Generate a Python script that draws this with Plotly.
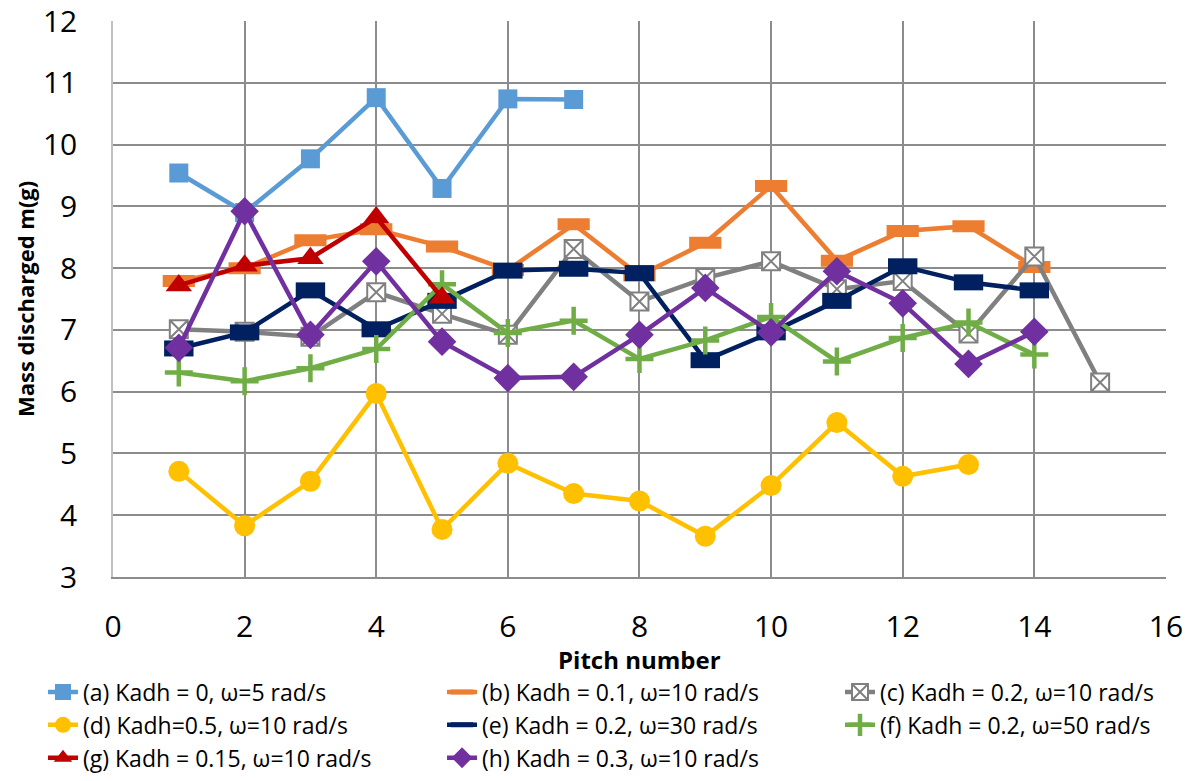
import plotly.graph_objects as go

pitch = list(range(1, 16))

a_vals = [9.54, 8.90, 9.77, 10.76, 9.29, 10.74, 10.73]
b_vals = [7.79, 8.00, 8.45, 8.63, 8.35, 7.97, 8.71, 7.88, 8.41, 9.33, 8.12, 8.60, 8.68, 8.02]
c_vals = [7.01, 6.97, 6.89, 7.61, 7.26, 6.92, 8.31, 7.46, 7.84, 8.11, 7.66, 7.79, 6.94, 8.19, 6.15]
d_vals = [4.71, 3.83, 4.55, 5.97, 3.77, 4.84, 4.35, 4.23, 3.66, 4.48, 5.50, 4.63, 4.82]
e_vals = [6.70, 6.96, 7.64, 7.01, 7.47, 7.96, 7.99, 7.92, 6.51, 6.96, 7.47, 8.03, 7.77, 7.64]
f_vals = [6.31, 6.17, 6.38, 6.69, 7.74, 6.95, 7.15, 6.53, 6.83, 7.21, 6.49, 6.87, 7.12, 6.60]
g_vals = [7.72, 8.04, 8.16, 8.82, 7.52]
h_vals = [6.71, 8.92, 6.92, 8.11, 6.81, 6.22, 6.24, 6.92, 7.68, 6.96, 7.95, 7.43, 6.45, 6.97]

names = [
    "(a) Kadh = 0, ω=5 rad/s",
    "(b) Kadh = 0.1, ω=10 rad/s",
    "(c) Kadh = 0.2, ω=10 rad/s",
    "(d) Kadh=0.5, ω=10 rad/s",
    "(e) Kadh = 0.2, ω=30 rad/s",
    "(f) Kadh = 0.2, ω=50 rad/s",
    "(g) Kadh = 0.15, ω=10 rad/s",
    "(h) Kadh = 0.3, ω=10 rad/s",
]

x_ticks = list(range(0, 17, 2))
y_ticks = list(range(3, 13))
x_title = "Pitch number"
y_title = "Mass discharged m(g)"

FONT = "Open Sans"

styles = [
    dict(color="#5B9BD5", symbol="square", size=19, lc="#5B9BD5", lw=0, fill="#5B9BD5", legend="legend"),
    dict(color="#ED7D31", symbol="line-ew", size=23, lc="#ED7D31", lw=12, fill="#ED7D31", legend="legend2"),
    dict(color="#808080", symbol="square-x", size=18, lc="#808080", lw=2, fill="white", legend="legend3"),
    dict(color="#FFC000", symbol="circle", size=21, lc="#FFC000", lw=0, fill="#FFC000", legend="legend"),
    dict(color="#002060", symbol="line-ew", size=21, lc="#002060", lw=16, fill="#002060", legend="legend2"),
    dict(color="#70AD47", symbol="cross-thin", size=20, lc="#70AD47", lw=4.5, fill="#70AD47", legend="legend3"),
    dict(color="#C00000", symbol="triangle-up", size=23, lc="#C00000", lw=0, fill="#C00000", legend="legend"),
    dict(color="#7030A0", symbol="diamond", size=22, lc="#7030A0", lw=0, fill="#7030A0", legend="legend2"),
]

series = [a_vals, b_vals, c_vals, d_vals, e_vals, f_vals, g_vals, h_vals]

fig = go.Figure()
for vals, nm, st in zip(series, names, styles):
    fig.add_trace(go.Scatter(
        x=pitch[:len(vals)], y=vals, name=nm, mode="lines+markers",
        line=dict(color=st["color"], width=4.5),
        marker=dict(symbol=st["symbol"], size=st["size"], color=st["fill"],
                    line=dict(color=st["lc"], width=st["lw"])),
        legend=st["legend"], legendgroup=nm,
    ))

# The page body adds an 8px offset; the figure is sized so the plot lands where the reference has it.
W, H = 1182, 765

leg_common = dict(
    orientation="v", xref="container", yref="container",
    yanchor="top", y=0.134, xanchor="left",
    font=dict(family=FONT, size=23, color="#000000"),
    bgcolor="rgba(0,0,0,0)", tracegroupgap=0, itemwidth=30,
)

fig.update_layout(
    width=W, height=H,
    margin=dict(l=105, r=24, t=13, b=196, autoexpand=False),
    paper_bgcolor="white", plot_bgcolor="white",
    font=dict(family=FONT, color="#000000"),
    legend=dict(x=0.0296, **leg_common),
    legend2=dict(x=0.3672, **leg_common),
    legend3=dict(x=0.7039, **leg_common),
    xaxis=dict(
        range=[0, 16.001], tickvals=x_ticks, ticktext=[str(v) for v in x_ticks],
        showgrid=True, gridcolor="#8C8C8C", gridwidth=1.5,
        showline=True, linecolor="#8C8C8C", linewidth=1.5,
        zeroline=False, ticks="", tickfont=dict(family=FONT, size=30),
        ticklabelstandoff=22, automargin=False, ticklabeloverflow="allow",
    ),
    yaxis=dict(
        range=[3, 12.001], tickvals=y_ticks, ticktext=[str(v) for v in y_ticks],
        showgrid=True, gridcolor="#8C8C8C", gridwidth=1.5,
        showline=True, linecolor="#C0C0C0", linewidth=1.5,
        zeroline=False, ticks="", tickfont=dict(family=FONT, size=30),
        ticklabelstandoff=28, automargin=False, ticklabeloverflow="allow",
    ),
    annotations=[
        dict(text="<b>" + x_title + "</b>", xref="paper", yref="paper",
             x=0.5, y=-82 / 556, xanchor="center", yanchor="middle",
             showarrow=False, font=dict(family=FONT, size=24, color="#000000")),
        dict(text="<b>" + y_title + "</b>", xref="paper", yref="paper",
             x=-88 / 1053, y=0.5, xanchor="center", yanchor="middle", textangle=-90,
             showarrow=False, font=dict(family=FONT, size=22, color="#000000")),
    ],
)

fig.write_html("out.html")
